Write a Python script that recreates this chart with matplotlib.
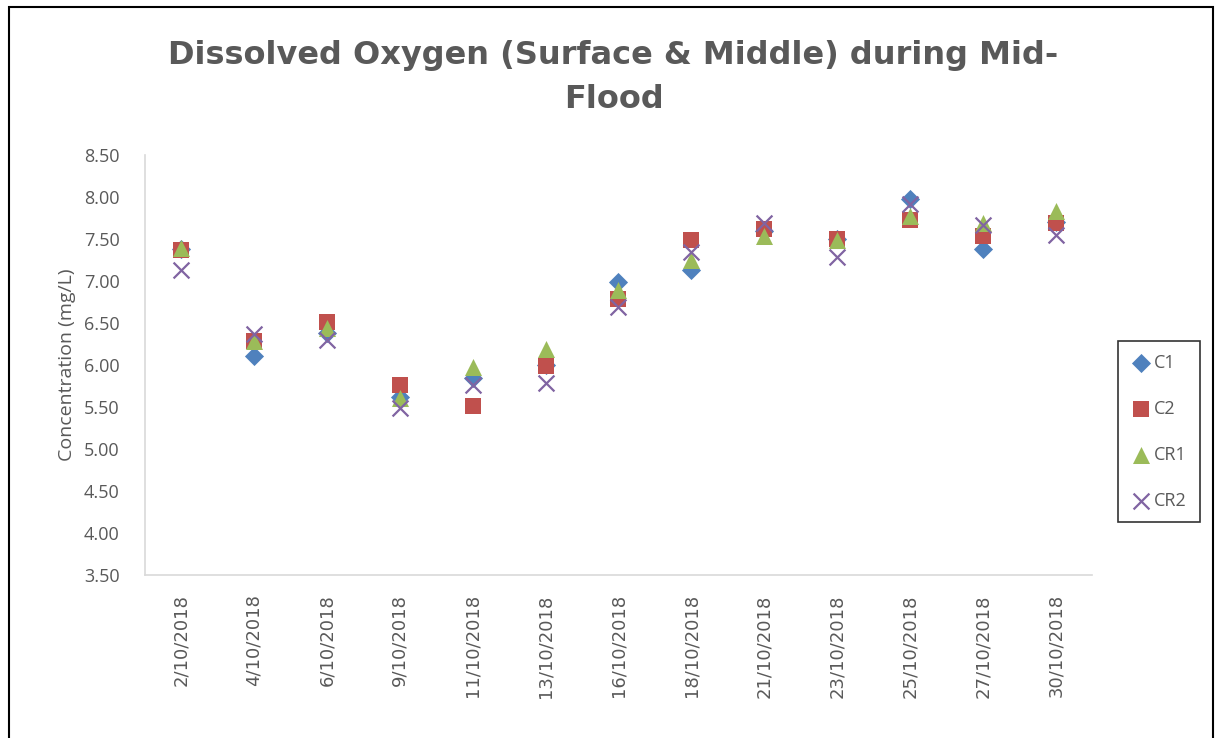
import matplotlib.pyplot as plt
from matplotlib.patches import Rectangle

plt.rcParams['font.family'] = ['Open Sans', 'DejaVu Sans']

# Data
dates = [
    "2/10/2018", "4/10/2018", "6/10/2018", "9/10/2018", "11/10/2018",
    "13/10/2018", "16/10/2018", "18/10/2018", "21/10/2018", "23/10/2018",
    "25/10/2018", "27/10/2018", "30/10/2018",
]
c1 = [7.38, 6.11, 6.38, 5.62, 5.85, 6.00, 6.99, 7.13, 7.60, 7.50, 7.98, 7.38, 7.70]
c2 = [7.37, 6.29, 6.51, 5.76, 5.51, 5.99, 6.79, 7.49, 7.62, 7.50, 7.73, 7.53, 7.69]
cr1 = [7.39, 6.28, 6.44, 5.61, 5.98, 6.19, 6.89, 7.25, 7.53, 7.49, 7.77, 7.69, 7.83]
cr2 = [7.13, 6.37, 6.30, 5.49, 5.76, 5.78, 6.69, 7.35, 7.69, 7.29, 7.92, 7.67, 7.55]

series = [
    ("C1", c1, "D", "#4F81BD", 95),
    ("C2", c2, "s", "#C0504D", 140),
    ("CR1", cr1, "^", "#9BBB59", 150),
    ("CR2", cr2, "x", "#8064A2", 130),
]

fig = plt.figure(figsize=(12.15, 7.38), dpi=100)
ax = fig.add_axes([0.119, 0.221, 0.780, 0.569])

x = list(range(len(dates)))
for name, vals, marker, color, size in series:
    if marker == "x":
        ax.scatter(x, vals, marker=marker, s=size, color=color,
                   linewidths=1.6, label=name, zorder=3)
    else:
        ax.scatter(x, vals, marker=marker, s=size, color=color,
                   linewidths=0, label=name, zorder=3)

ax.set_xlim(-0.5, len(dates) - 0.5)
ax.set_ylim(3.5, 8.5)
ax.set_yticks([3.5 + 0.5 * i for i in range(11)])
ax.set_yticklabels([f"{3.5 + 0.5 * i:.2f}" for i in range(11)])
ax.set_xticks(x)
ax.set_xticklabels(dates, rotation=90, family="DejaVu Sans")
ax.tick_params(axis="both", length=0, labelsize=13, colors="#595959")
ax.tick_params(axis="x", pad=14)
ax.tick_params(axis="y", pad=18)

for side in ["top", "right"]:
    ax.spines[side].set_visible(False)
for side in ["left", "bottom"]:
    ax.spines[side].set_color("#D9D9D9")
    ax.spines[side].set_linewidth(1.2)

ax.set_ylabel("Concentration (mg/L)", fontsize=14, color="#595959", labelpad=6)

fig.text(0.505, 0.925, "Dissolved Oxygen (Surface & Middle) during Mid-",
         ha="center", va="center", fontsize=23, fontweight="bold",
         color="#595959", family="DejaVu Sans")
fig.text(0.505, 0.865, "Flood",
         ha="center", va="center", fontsize=23, fontweight="bold",
         color="#595959", family="DejaVu Sans")

handles, labels = ax.get_legend_handles_labels()
leg = fig.legend(handles, labels, loc="center left",
                 bbox_to_anchor=(1118 / 1215, 0.415),
                 frameon=True, fancybox=False, fontsize=13, labelspacing=1.55,
                 handletextpad=0.1, borderpad=0.7, handlelength=1.2,
                 borderaxespad=0)
leg.get_frame().set_edgecolor("black")
leg.get_frame().set_linewidth(1.2)
for t in leg.get_texts():
    t.set_color("#595959")

# chart border
fig.patches.append(Rectangle((0.007, -0.01), 0.991, 1.0, transform=fig.transFigure,
                             fill=False, edgecolor="black", linewidth=1.5))

fig.savefig("out.png", dpi=100)
